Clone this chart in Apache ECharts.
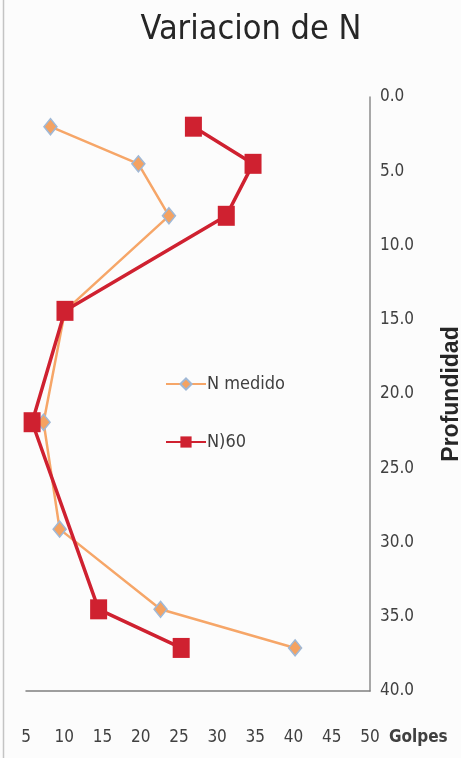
<!DOCTYPE html>
<html>
<head>
<meta charset="utf-8">
<script src="https://cdn.jsdelivr.net/npm/echarts@6/dist/echarts.min.js"></script>
<style>
  html, body { margin: 0; padding: 0; background: #fcfcfc; }
  #chart { width: 461px; height: 758px; }
</style>
</head>
<body>
<div id="chart"></div>
<script>
// Golpes (N) per depth for the SPT profile
const depthMedido = [2.0, 4.5, 8.0, 14.4, 21.9, 29.1, 34.5, 37.1];
const nMedido     = [8.2, 19.7, 23.7, 10.1, 7.3, 9.4, 22.6, 40.2];

const depthN60 = [2.0, 4.5, 8.0, 14.4, 21.9, 34.5, 37.1];
const n60      = [26.9, 34.7, 31.2, 10.1, 5.8, 14.5, 25.3];

const xTicks = [5, 10, 15, 20, 25, 30, 35, 40, 45, 50];
const yTicks = [0, 5, 10, 15, 20, 25, 30, 35, 40];

const narrow = "'DejaVu Sans Condensed', 'DejaVu Sans', sans-serif";
const chart = echarts.init(document.getElementById('chart'), null, { renderer: 'canvas' });

const pairs = (xs, ys) => xs.map((x, i) => [x, ys[i]]);

chart.setOption({
  backgroundColor: '#fcfcfc',
  animation: false,
  title: {
    text: 'Variacion de N',
    left: 246, top: 8, textAlign: 'center',
    textStyle: { fontFamily: narrow, fontSize: 34, fontWeight: 'normal', color: '#262626' }
  },
  legend: {
    orient: 'vertical',
    left: 160, top: 370,
    itemWidth: 40, itemHeight: 14, itemGap: 40,
    textStyle: { fontFamily: narrow, fontSize: 18, color: '#404040', padding: [0, 0, 0, -4] },
    data: ['N medido', 'N)60']
  },
  grid: { left: 26, right: 91, top: 97, bottom: 67, outerBoundsMode: 'none' },
  xAxis: {
    type: 'value', min: xTicks[0], max: xTicks[xTicks.length - 1], interval: 5,
    name: 'Golpes', nameLocation: 'end', nameGap: 19,
    nameTextStyle: { fontFamily: narrow, fontSize: 17, fontWeight: 'bold', color: '#404040',
                     align: 'left', verticalAlign: 'top', padding: [38, 0, 0, 0] },
    axisLine: { onZero: false, lineStyle: { color: '#7f7f7f', width: 1.5 } },
    axisTick: { show: false },
    axisLabel: { margin: 38, fontFamily: narrow, fontSize: 17, color: '#404040' },
    splitLine: { show: false }
  },
  yAxis: {
    type: 'value', inverse: true, position: 'right',
    min: yTicks[0], max: yTicks[yTicks.length - 1], interval: 5,
    name: 'Profundidad', nameLocation: 'middle', nameGap: 70, nameRotate: 90,
    nameTextStyle: { fontFamily: "'Liberation Sans', sans-serif", fontSize: 23, fontWeight: 'bold', color: '#262626' },
    axisLine: { show: true, onZero: false, lineStyle: { color: '#8c8c8c', width: 1.5 } },
    axisTick: { show: false },
    axisLabel: { margin: 10, fontFamily: narrow, fontSize: 17, color: '#404040',
                 formatter: v => v.toFixed(1) },
    splitLine: { show: false }
  },
  graphic: [{
    type: 'line', shape: { x1: 3.5, y1: 0, x2: 3.5, y2: 758 },
    style: { stroke: '#c4c4c4', lineWidth: 1.5 }
  }],
  series: [
    {
      name: 'N medido', type: 'line',
      data: pairs(nMedido, depthMedido),
      symbol: 'diamond', symbolSize: [13, 16],
      lineStyle: { color: '#f6a668', width: 2.5 },
      itemStyle: { color: '#f4a261', borderColor: '#9fb8d6', borderWidth: 1.5 },
      z: 2
    },
    {
      name: 'N)60', type: 'line',
      data: pairs(n60, depthN60),
      symbol: 'rect', symbolSize: [17, 20],
      lineStyle: { color: '#cf2130', width: 3.5 },
      itemStyle: { color: '#cf2130' },
      z: 3
    }
  ]
});
</script>
</body>
</html>
